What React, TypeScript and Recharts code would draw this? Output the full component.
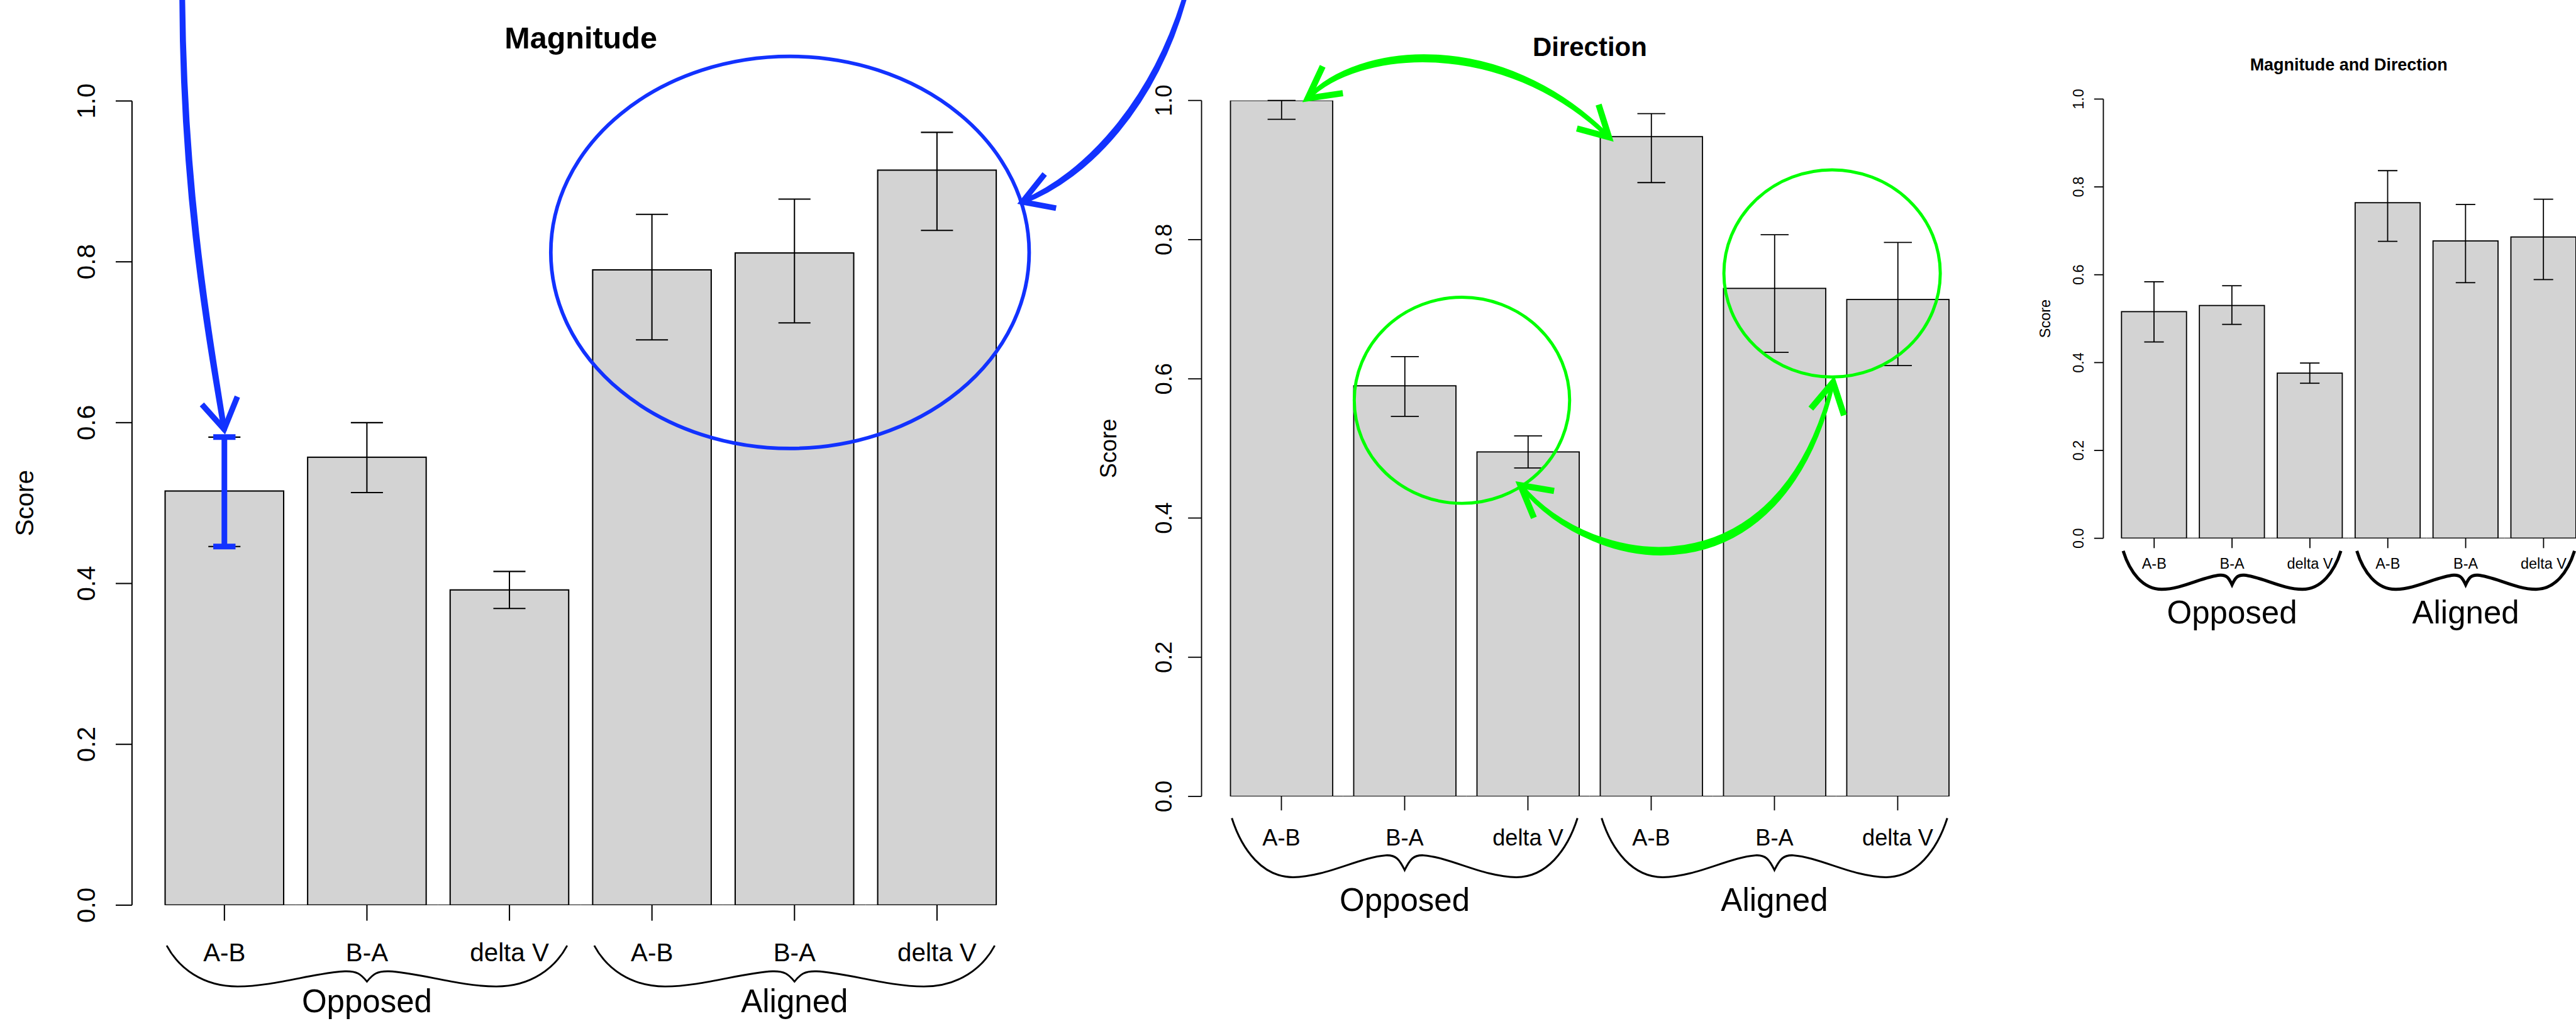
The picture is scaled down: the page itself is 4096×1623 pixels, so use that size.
import { BarChart, Bar, XAxis, YAxis, ErrorBar } from 'recharts';

// reference was 4976 wide, page is 4096
const K = 4096 / 4976;
const PAGE_W = 4096;
const PAGE_H = 1623;
const FONT = '"Liberation Sans", Arial, Helvetica, sans-serif';
const BLUE = '#1232ff';
const GREEN = '#00ff00';

const categories = ['A-B', 'B-A', 'delta V', 'A-B', 'B-A', 'delta V'];
const groupNames = ['Opposed', 'Aligned'];
const groupIndex = [0, 0, 0, 1, 1, 1];
const yTicks = [0, 0.2, 0.4, 0.6, 0.8, 1.0];

const magnitudeMean = [0.515, 0.557, 0.392, 0.790, 0.811, 0.914];
const magnitudeLow = [0.446, 0.513, 0.369, 0.703, 0.724, 0.839];
const magnitudeHigh = [0.582, 0.600, 0.415, 0.859, 0.878, 0.961];
const magnitudeHighlight = [true, false, false, false, false, false];

const directionMean = [1.0, 0.590, 0.495, 0.948, 0.730, 0.714];
const directionLow = [0.973, 0.546, 0.472, 0.882, 0.638, 0.619];
const directionHigh = [1.0, 0.632, 0.518, 0.981, 0.807, 0.796];

const combinedMean = [0.516, 0.530, 0.376, 0.764, 0.677, 0.686];
const combinedLow = [0.447, 0.487, 0.353, 0.676, 0.582, 0.589];
const combinedHigh = [0.584, 0.575, 0.399, 0.837, 0.760, 0.772];

function buildRows(mean: number[], low: number[], high: number[], highlight?: boolean[]) {
  return categories.map((c, i) => ({
    key: `${groupNames[groupIndex[i]]}:${c}`,
    mean: mean[i],
    err: [mean[i] - low[i], high[i] - mean[i]],
    blueErr: highlight && highlight[i] ? [mean[i] - low[i], high[i] - mean[i]] : undefined,
  }));
}

// layout in reference pixels
const panels = [
  {
    data: buildRows(magnitudeMean, magnitudeLow, magnitudeHigh, magnitudeHighlight),
    axisX: 255, top: 195, bottom: 1748, bandStart: 295.85, bandW: 275.3, barW: 229,
    capHalf: 31, yTick: 31.5, xTick: 30, font: 49, tickBase: 183.3, xLabelBase: 1856.7, line: 2.5,
    title: 'Magnitude', titleX: 1122, titleY: 93, titleSize: 59, scoreX: 64,
    braceTop: 1826, braceBottom: 1905, braceLine: 3.5, groupBase: 1955,
  },
  {
    data: buildRows(directionMean, directionLow, directionHigh),
    axisX: 2321, top: 194, bottom: 1538, bandStart: 2356.2, bandW: 238.1, barW: 197.5,
    capHalf: 27, yTick: 26, xTick: 27, font: 44, tickBase: 2263, xLabelBase: 1632.4, line: 2.2,
    title: 'Direction', titleX: 3071, titleY: 108.4, titleSize: 51, scoreX: 2156,
    braceTop: 1580, braceBottom: 1694, braceLine: 3.7, groupBase: 1759.5,
  },
  {
    data: buildRows(combinedMean, combinedLow, combinedHigh),
    axisX: 4063, top: 191.3, bottom: 1039.5, bandStart: 4085.9, bandW: 150.44, barW: 125.6,
    capHalf: 18.9, yTick: 17.8, xTick: 19, font: 28.5, tickBase: 4025, xLabelBase: 1098.5, line: 2.2,
    title: 'Magnitude and Direction', titleX: 4537, titleY: 135.5, titleSize: 32.7, scoreX: 3960,
    braceTop: 1064, braceBottom: 1138, braceLine: 6, groupBase: 1203.8,
  },
];

type Panel = (typeof panels)[number];

function PanelChart({ p }: { p: Panel }) {
  const bandEnd = (p.bandStart + 6 * p.bandW) * K;
  const w = Math.ceil(bandEnd) + 4;
  const xAxisH = 40;
  const yAxisW = 60;
  const lw = p.line * K;
  const gap = (p.bandW - p.barW) * K;

  const renderBar = (props: any) => {
    const { x, y, width, height, index } = props;
    const i = index ?? 0;
    const left = i > 0 ? gap / 2 : 0;
    const right = i < categories.length - 1 ? gap / 2 : 0;
    return (
      <g>
        <rect x={x} y={y} width={width} height={height} fill="#d3d3d3" stroke="#000" strokeWidth={lw} />
        <line x1={x - left} x2={x + width + right} y1={y + height} y2={y + height} stroke="#000" strokeWidth={lw} />
      </g>
    );
  };

  const renderXTick = (props: any) => (
    <text x={props.x} y={p.xLabelBase * K} textAnchor="middle" fontSize={p.font * K} fontFamily={FONT} fill="#000">
      {String(props.payload.value).split(':')[1]}
    </text>
  );

  const renderYTick = (props: any) => {
    const bx = p.tickBase * K;
    return (
      <text x={bx} y={props.y} transform={`rotate(-90 ${bx} ${props.y})`} textAnchor="middle"
        fontSize={p.font * K} fontFamily={FONT} fill="#000">
        {Number(props.payload.value).toFixed(1)}
      </text>
    );
  };

  return (
    <div style={{ position: 'absolute', left: 0, top: 0 }}>
      <BarChart
        width={w}
        height={PAGE_H}
        data={p.data}
        barCategoryGap={0}
        barGap={0}
        margin={{ top: p.top * K, right: w - bandEnd, bottom: PAGE_H - p.bottom * K - xAxisH, left: p.axisX * K - yAxisW }}
      >
        <XAxis
          dataKey="key"
          interval={0}
          height={xAxisH}
          axisLine={false}
          tickLine={{ stroke: '#000', strokeWidth: lw }}
          tickSize={p.xTick * K}
          padding={{ left: (p.bandStart - p.axisX) * K, right: 0 }}
          tick={renderXTick}
        />
        <YAxis
          width={yAxisW}
          type="number"
          domain={[0, 1]}
          ticks={yTicks}
          allowDataOverflow
          axisLine={{ stroke: '#000', strokeWidth: lw }}
          tickLine={{ stroke: '#000', strokeWidth: lw }}
          tickSize={p.yTick * K}
          tick={renderYTick}
        />
        <Bar dataKey="mean" barSize={p.barW * K} fill="#d3d3d3" shape={renderBar} isAnimationActive={false}>
          <ErrorBar dataKey="err" direction="y" width={p.capHalf * K} stroke="#000" strokeWidth={lw} isAnimationActive={false} />
          <ErrorBar dataKey="blueErr" direction="y" width={21.5 * K} stroke={BLUE} strokeWidth={9} isAnimationActive={false} />
        </Bar>
      </BarChart>
    </div>
  );
}

function bracePath(a: number, b: number, top: number, bottom: number) {
  const w = b - a;
  const h = bottom - top;
  const P = (u: number, v: number) => `${a + u * w} ${top + v * h}`;
  return `M ${P(0, 0)} C ${P(0.03, 0.55)} ${P(0.09, 1)} ${P(0.177, 1)} C ${P(0.27, 1)} ${P(0.37, 0.66)} ${P(0.445, 0.63)} `
    + `C ${P(0.475, 0.62)} ${P(0.485, 0.7)} ${P(0.5, 0.88)} C ${P(0.515, 0.7)} ${P(0.525, 0.62)} ${P(0.555, 0.63)} `
    + `C ${P(0.63, 0.66)} ${P(0.73, 1)} ${P(0.823, 1)} C ${P(0.91, 1)} ${P(0.97, 0.55)} ${P(1, 0)}`;
}

type Pt = [number, number];

// curved shaft that is thicker in the middle than at its ends
function taper(p0: Pt, p1: Pt, p2: Pt, p3: Pt, bulge: number) {
  const dx = p3[0] - p0[0];
  const dy = p3[1] - p0[1];
  const L = Math.hypot(dx, dy);
  const nx = (-dy / L) * bulge;
  const ny = (dx / L) * bulge;
  const a1 = [p1[0] + nx, p1[1] + ny];
  const a2 = [p2[0] + nx, p2[1] + ny];
  const b1 = [p1[0] - nx, p1[1] - ny];
  const b2 = [p2[0] - nx, p2[1] - ny];
  return `M ${p0} C ${a1} ${a2} ${p3} C ${b2} ${b1} ${p0} Z`;
}

function Shaft({ pts, bulge, w, color }: { pts: Pt[]; bulge: number; w: number; color: string }) {
  return (
    <path d={taper(pts[0], pts[1], pts[2], pts[3], bulge)} fill={color} stroke={color}
      strokeWidth={w} strokeLinejoin="round" />
  );
}

function Head({ tip, a, b, w, color }: { tip: Pt; a: Pt; b: Pt; w: number; color: string }) {
  return <path d={`M ${a} L ${tip} L ${b}`} fill="none" stroke={color} strokeWidth={w} strokeLinejoin="miter" strokeMiterlimit={10} />;
}

function Overlay() {
  return (
    <svg width={PAGE_W} height={PAGE_H} style={{ position: 'absolute', left: 0, top: 0, pointerEvents: 'none' }}>
      <g transform={`scale(${K})`} fontFamily={FONT}>
        {panels.map((p, pi) => {
          const barLeft = (i: number) => p.bandStart + i * p.bandW + (p.bandW - p.barW) / 2;
          const mid = (p.top + p.bottom) / 2;
          return (
            <g key={pi}>
              <text x={p.titleX} y={p.titleY} textAnchor="middle" fontWeight="bold" fontSize={p.titleSize}>{p.title}</text>
              <text x={p.scoreX} y={mid} transform={`rotate(-90 ${p.scoreX} ${mid})`} textAnchor="middle" fontSize={p.font}>Score</text>
              {groupNames.map((g, gi) => {
                const a = barLeft(gi * 3) + 3;
                const b = barLeft(gi * 3 + 2) + p.barW - 3;
                return (
                  <g key={g}>
                    <path d={bracePath(a, b, p.braceTop, p.braceBottom)} fill="none" stroke="#000" strokeWidth={p.braceLine} />
                    <text x={(a + b) / 2} y={p.groupBase} textAnchor="middle" fontSize={62}>{g}</text>
                  </g>
                );
              })}
            </g>
          );
        })}

        {/* blue annotations on the Magnitude panel */}
        <ellipse cx={1526} cy={487.5} rx={462} ry={378.5} fill="none" stroke={BLUE} strokeWidth={7} />
        <Shaft pts={[[352, -10], [354, 350], [395, 600], [433, 829]]} bulge={1.5} w={11} color={BLUE} />
        <Head tip={[433, 829]} a={[390, 781]} b={[458.5, 766]} w={11} color={BLUE} />
        <Shaft pts={[[2290, -10], [2230, 200], [2100, 340], [1975, 390]]} bulge={3} w={9} color={BLUE} />
        <Head tip={[1975, 390]} a={[2018, 336]} b={[2040, 402]} w={11} color={BLUE} />

        {/* green annotations on the Direction panel */}
        <ellipse cx={2824} cy={773} rx={208} ry={199} fill="none" stroke={GREEN} strokeWidth={6} />
        <ellipse cx={3539} cy={528} rx={209} ry={200} fill="none" stroke={GREEN} strokeWidth={6} />
        <Shaft pts={[[2526, 190], [2620, 90], [2900, 60], [3108, 265]]} bulge={5} w={8} color={GREEN} />
        <Head tip={[2526, 190]} a={[2555, 128]} b={[2594, 180]} w={12} color={GREEN} />
        <Head tip={[3108, 265]} a={[3088, 202]} b={[3046, 248]} w={12} color={GREEN} />
        <Shaft pts={[[2937, 937], [3080, 1110], [3440, 1160], [3541, 738]]} bulge={6} w={8} color={GREEN} />
        <Head tip={[2937, 937]} a={[3002, 948]} b={[2963, 1000]} w={12} color={GREEN} />
        <Head tip={[3541, 738]} a={[3498, 789]} b={[3562, 802]} w={12} color={GREEN} />
      </g>
    </svg>
  );
}

export default function App() {
  return (
    <div style={{ position: 'absolute', left: 0, top: 0, width: PAGE_W, height: PAGE_H, overflow: 'hidden', background: '#fff' }}>
      {panels.map((p, i) => (
        <PanelChart key={i} p={p} />
      ))}
      <Overlay />
    </div>
  );
}
